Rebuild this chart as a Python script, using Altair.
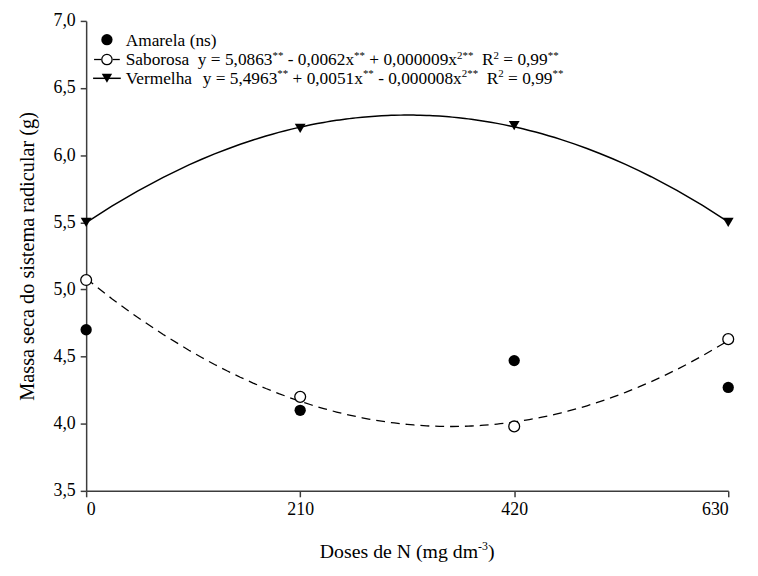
import re
import altair as alt
import pandas as pd

# ---------------- data ----------------
doses = [0, 210, 420, 630]
amarela = [4.70, 4.10, 4.47, 4.27]
saborosa = [5.07, 4.20, 3.98, 4.63]
vermelha = [5.50, 6.20, 6.22, 5.50]

y_ticks = [3.5, 4.0, 4.5, 5.0, 5.5, 6.0, 6.5, 7.0]
x_ticks = [0, 210, 420, 630]

y_title = "Massa seca do sistema radicular (g)"
x_title = [("Doses de N (mg dm", False), ("-3", True), (")", False)]

legend_amarela = [("Amarela (ns)", False)]
legend_saborosa = [("Saborosa  y = 5,0863", False), ("**", True), (" - 0,0062x", False), ("**", True),
                   (" + 0,000009x", False), ("2**", True), ("  R", False), ("2", True),
                   (" = 0,99", False), ("**", True)]
legend_vermelha = [("Vermelha  y = 5,4963", False), ("**", True), (" + 0,0051x", False), ("**", True),
                   (" - 0,000008x", False), ("2**", True), ("  R", False), ("2", True),
                   (" = 0,99", False), ("**", True)]

# ---------------- layout ----------------
FONT = "'Liberation Serif', 'Times New Roman', serif"
W, H = 649, 475
AX = "#3c3c3c"

# Times / Liberation Serif advance widths (per 1000 em)
TW = {' ': 250, ',': 250, '.': 250, '=': 564, '+': 564, '-': 333, '*': 500, '(': 333, ')': 333,
      'y': 500, 'x': 500, 'R': 667, 'S': 556, 'a': 444, 'b': 500, 'o': 500, 'r': 333, 's': 389,
      'V': 722, 'e': 444, 'm': 778, 'l': 278, 'h': 500, 'A': 722, 'n': 500, 'D': 722, 'd': 500,
      'N': 722, 'g': 500}


def tw(s, size):
    return sum(TW.get(c, 500) for c in s) * size / 1000.0


def place(segments, x0, base, size, sup_size, raise_px):
    out = []
    x = x0
    for text, sup in segments:
        fs = sup_size if sup else size
        yy = base - raise_px if sup else base
        for tok in re.findall(r"\s+|\S+", text):
            if not tok.isspace():
                out.append((x, yy, tok, fs))
            x += tw(tok, fs)
    return out


def total_width(segments, size, sup_size):
    return sum(tw(t, sup_size if s else size) for t, s in segments)


one = pd.DataFrame({"k": [0]})


def text_layer(x, y, t, fs):
    return alt.Chart(one).mark_text(text=t, align="left", baseline="alphabetic", font=FONT,
                                    fontSize=fs, color="black").encode(
        x=alt.value(x), y=alt.value(y))


xscale = alt.Scale(domain=[0, 630], nice=False, zero=False)
yscale = alt.Scale(domain=[3.5, 7.0], nice=False, zero=False)

xaxis = alt.Axis(values=x_ticks, format="d", grid=False, title=None, domainColor=AX, domainWidth=1.5,
                 tickColor=AX, tickWidth=1.5, tickSize=6, labelFont=FONT, labelFontSize=18,
                 labelColor="black", labelPadding=4)
yaxis = alt.Axis(values=y_ticks, labelExpr="replace(format(datum.value, '.1f'), '.', ',')", grid=False,
                 title=y_title, titleFont=FONT, titleFontSize=20.5, titleFontWeight="normal",
                 titleColor="black", titlePadding=16, domainColor=AX, domainWidth=1.5, tickColor=AX,
                 tickWidth=1.5, tickSize=6, labelFont=FONT, labelFontSize=18, labelColor="black",
                 labelPadding=5)

df_am = pd.DataFrame({"dose": doses, "val": amarela})
df_sab = pd.DataFrame({"dose": doses, "val": saborosa})
df_ver = pd.DataFrame({"dose": doses, "val": vermelha})

enc = dict(x=alt.X("dose:Q", scale=xscale, axis=xaxis), y=alt.Y("val:Q", scale=yscale, axis=yaxis))

line_sab = alt.Chart(df_sab).transform_regression(
    "dose", "val", method="poly", order=2, extent=[0, 630]
).mark_line(color="black", strokeDash=[9, 6], strokeWidth=1.3).encode(**enc)

line_ver = alt.Chart(df_ver).transform_regression(
    "dose", "val", method="poly", order=2, extent=[0, 630]
).mark_line(color="black", strokeWidth=1.5).encode(**enc)

pts_am = alt.Chart(df_am).mark_point(shape="circle", filled=True, size=130, color="black",
                                     opacity=1).encode(**enc)
pts_sab = alt.Chart(df_sab).mark_point(shape="circle", filled=True, size=120, fill="white",
                                       stroke="black", strokeWidth=1.3, opacity=1).encode(**enc)
pts_ver = alt.Chart(df_ver).mark_point(shape="triangle-down", filled=True, size=120, color="black",
                                       opacity=1).encode(**enc)

layers = [line_sab, line_ver, pts_am, pts_sab, pts_ver]

# ---------------- legend ----------------
LX = 21        # marker centre (plot coords)
TX = 40        # text start
rows_y = [19, 39, 58]
LS, SS, RZ = 17.5, 11, 7

layers.append(alt.Chart(one).mark_point(shape="circle", filled=True, size=130, color="black",
                                        opacity=1).encode(x=alt.value(LX), y=alt.value(rows_y[0])))
layers.append(alt.Chart(one).mark_rule(color="black", strokeWidth=1.3).encode(
    x=alt.value(LX - 13), x2=alt.value(LX - 6), y=alt.value(rows_y[1])))
layers.append(alt.Chart(one).mark_rule(color="black", strokeWidth=1.3).encode(
    x=alt.value(LX + 6), x2=alt.value(LX + 13), y=alt.value(rows_y[1])))
layers.append(alt.Chart(one).mark_point(shape="circle", filled=True, size=110, fill="white",
                                        stroke="black", strokeWidth=1.3, opacity=1).encode(
    x=alt.value(LX), y=alt.value(rows_y[1])))
layers.append(alt.Chart(one).mark_rule(color="black", strokeWidth=1.5).encode(
    x=alt.value(LX - 14), x2=alt.value(LX + 14), y=alt.value(rows_y[2])))
layers.append(alt.Chart(one).mark_point(shape="triangle-down", filled=True, size=110, color="black",
                                        opacity=1).encode(x=alt.value(LX), y=alt.value(rows_y[2])))

for segs, ry in zip([legend_amarela, legend_saborosa, legend_vermelha], rows_y):
    for (px, py, t, fs) in place(segs, TX, ry + 6, LS, SS, RZ):
        layers.append(text_layer(px, py, t, fs))

# ---------------- x title ----------------
XT, XS = 20, 12
xw = total_width(x_title, XT, XS)
for (px, py, t, fs) in place(x_title, W / 2 - xw / 2, H + 68, XT, XS, 8):
    layers.append(text_layer(px, py, t, fs))

chart = alt.layer(*layers).properties(
    width=W, height=H,
    autosize=alt.AutoSizeParams(type="none"),
    padding={"left": 79, "top": 10, "right": 22, "bottom": 83},
    background="white",
).configure_view(stroke=None)

chart.save("out.html", embed_options={"renderer": "svg", "actions": False})
